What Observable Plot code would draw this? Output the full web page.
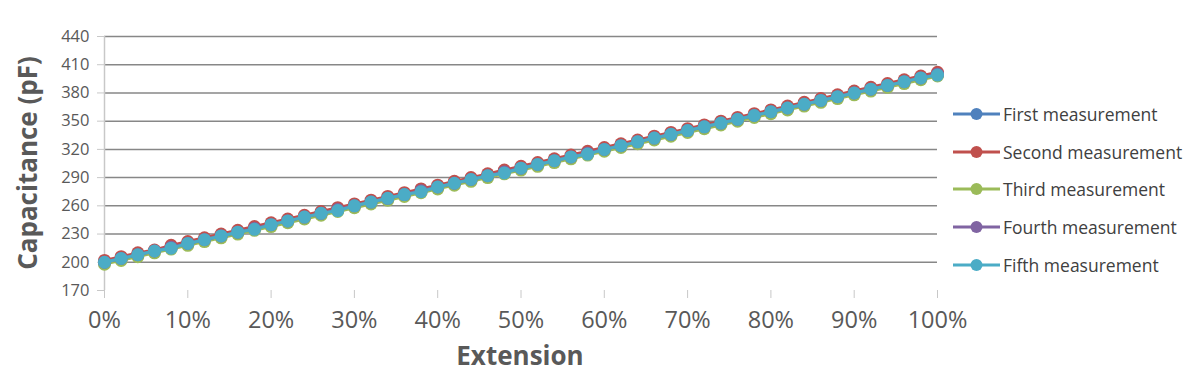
<!DOCTYPE html>
<html>
<head>
<meta charset="utf-8">
<script src="https://cdn.jsdelivr.net/npm/d3@7"></script>
<script src="https://cdn.jsdelivr.net/npm/@observablehq/plot@0.6"></script>
<style>
  html, body { margin: 0; padding: 0; background: #fff; }
  #wrap { position: relative; width: 1200px; height: 376px; font-family: "Open Sans", sans-serif; }
  #legend { position: absolute; left: 953px; top: 95px; }
  .item { display: flex; align-items: center; height: 37.7px; font-size: 17.5px; color: #404040; white-space: nowrap; }
  .item svg { margin-right: 3px; }
</style>
</head>
<body>
<div id="wrap"><div id="chart"></div><div id="legend"></div></div>
<script>
const extension = [0,2,4,6,8,10,12,14,16,18,20,22,24,26,28,30,32,34,36,38,40,42,44,46,48,50,52,54,56,58,60,62,64,66,68,70,72,74,76,78,80,82,84,86,88,90,92,94,96,98,100];
const seriesNames = ["First measurement","Second measurement","Third measurement","Fourth measurement","Fifth measurement"];
const seriesColors = ["#4F81BD","#C0504D","#9BBB59","#8064A2","#4BACC6"];
const first  = [200,204,208,212,216,220,224,228,232,236,240,244,248,252,256,260,264,268,272,276,280,284,288,292,296,300,304,308,312,316,320,324,328,332,336,340,344,348,352,356,360,364,368,372,376,380,384,388,392,396,400];
const second = [202,206,210,213,218,222,226,230,234,238,242,246,250,254,258,262,266,270,274,278,282,286,290,294,298,302,306,310,314,318,322,326,330,334,338,342,346,350,354,358,362,366,370,374,378,382,386,390,394,398,402];
const third  = [198,202,206,210,214,218,222,226,230,234,238,242,246,250,254,258,262,266,270,274,278,282,286,290,294,298,302,306,310,314,318,322,326,330,334,338,342,346,350,354,358,362,366,370,374,378,382,386,390,394,398];
const fourth = [200,204,208,212,216,220,224,228,232,236,240,244,248,252,256,260,264,268,272,276,280,284,288,292,296,300,304,308,312,316,320,324,328,332,336,340,344,348,352,356,360,364,368,372,376,380,384,388,392,396,400];
const fifth  = [200,204,208,212,215,220,224,228,232,235,240,244,248,252,255,260,264,268,272,275,280,284,288,292,295,300,304,308,312,315,320,324,328,332,336,340,344,348,352,356,360,364,368,372,376,380,384,388,392,396,399];
const yTicks = [170,200,230,260,290,320,350,380,410,440];
const xTicks = [0,10,20,30,40,50,60,70,80,90,100];

const allSeries = [first, second, third, fourth, fifth];
const data = allSeries.flatMap((vals, s) => vals.map((v, i) => ({x: extension[i], y: v, s: seriesNames[s]})));

const marks = [
  Plot.gridY(yTicks.filter(t => t > 170), {stroke: "#878787", strokeOpacity: 1, strokeWidth: 1.5}),
  Plot.ruleX([0], {stroke: "#c8c8c8", strokeWidth: 1.5, y1: 170, y2: 440}),
  Plot.axisY({ticks: yTicks, tickSize: 7, tickPadding: 8, stroke: "#c8c8c8", fontSize: 16.5, color: "#595959", label: null}),
  Plot.axisX({ticks: xTicks, tickSize: 8, tickPadding: 13, stroke: "#c8c8c8", fontSize: 23.5, color: "#595959", tickFormat: d => d + "%", label: null})
];
allSeries.forEach((vals, s) => {
  const d = data.filter(r => r.s === seriesNames[s]);
  marks.push(Plot.line(d, {x: "x", y: "y", stroke: seriesColors[s], strokeWidth: 3}));
  marks.push(Plot.dot(d, {x: "x", y: "y", fill: seriesColors[s], r: 6.5, stroke: "none"}));
});

const chart = Plot.plot({
  width: 1200,
  height: 376,
  marginLeft: 104,
  marginRight: 263,
  marginTop: 36,
  marginBottom: 86,
  style: {fontFamily: "Open Sans, sans-serif", background: "#fff", overflow: "visible"},
  x: {domain: [0, 100]},
  y: {domain: [170, 440]},
  marks
});
document.getElementById("chart").appendChild(chart);

const svg = d3.select(chart);
svg.append("text").text("Capacitance (pF)")
  .attr("transform", "translate(37,163) rotate(-90)")
  .attr("text-anchor", "middle").attr("font-size", 26).attr("font-weight", "bold").attr("fill", "#595959");
svg.append("text").text("Extension")
  .attr("x", 520).attr("y", 365)
  .attr("text-anchor", "middle").attr("font-size", 26).attr("font-weight", "bold").attr("fill", "#595959");

const legend = d3.select("#legend");
seriesNames.forEach((n, i) => {
  const item = legend.append("div").attr("class", "item");
  const s = item.append("svg").attr("width", 47).attr("height", 16);
  s.append("line").attr("x1", 0).attr("x2", 47).attr("y1", 8).attr("y2", 8).attr("stroke", seriesColors[i]).attr("stroke-width", 3);
  s.append("circle").attr("cx", 23.5).attr("cy", 8).attr("r", 6).attr("fill", seriesColors[i]);
  item.append("span").text(n);
});
</script>
</body>
</html>
